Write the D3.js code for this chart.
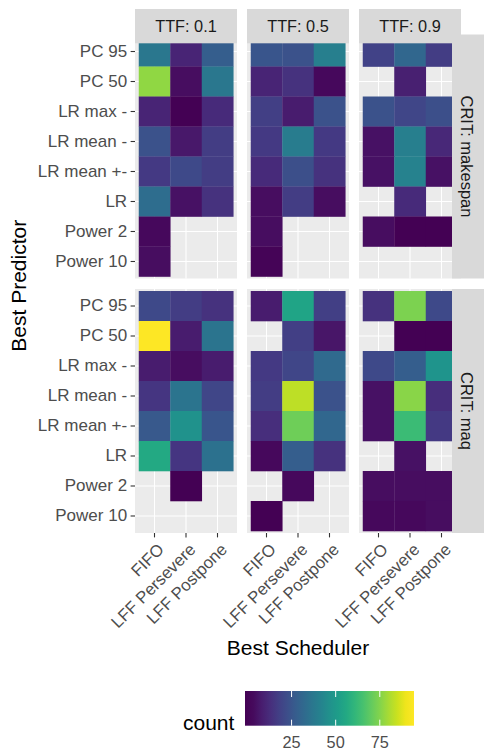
<!DOCTYPE html>
<html>
<head>
<meta charset="utf-8">
<script src="https://cdn.jsdelivr.net/npm/d3@7"></script>
<style>
  body { margin: 0; background: #fff; }
  text { font-family: "Liberation Sans", Arial, Helvetica, sans-serif; }
</style>
</head>
<body>
<script>
// categories
const predictors = ["PC 95", "PC 50", "LR max -", "LR mean -", "LR mean +-", "LR", "Power 2", "Power 10"];
const schedulers = ["FIFO", "LFF Persevere", "LFF Postpone"];
const ttfLabels = ["TTF: 0.1", "TTF: 0.5", "TTF: 0.9"];
const critLabels = ["CRIT: makespan", "CRIT: maq"];
const legendTicks = [25, 50, 75];

// counts, one row per predictor, columns FIFO / LFF Persevere / LFF Postpone (null = empty)
const makespan01 = [[37, 10, 28], [77, 4, 37], [10, 1, 12], [24, 7, 17], [16, 21, 17], [33, 5, 14], [3, null, null], [4, null, null]];
const makespan05 = [[25, 24, 40], [10, 14, 3], [18, 8, 24], [16, 39, 16], [12, 23, 14], [4, 17, 4], [4, null, null], [2, null, null]];
const makespan09 = [[19, 31, 17], [null, 9, null], [24, 20, 23], [5, 40, 11], [5, 41, 5], [null, 12, null], [4, 1, 1], [null, null, null]];
const maq01 = [[21, 17, 14], [92, 8, 36], [8, 4, 8], [15, 36, 20], [26, 47, 25], [56, 15, 35], [null, 1, null], [null, null, null]];
const maq05 = [[8, 54, 18], [null, 18, 6], [16, 20, 32], [17, 83, 24], [13, 72, 31], [3, 28, 14], [null, 3, null], [1, null, null]];
const maq09 = [[14, 74, 21], [null, 1, 1], [21, 28, 48], [5, 76, 13], [5, 63, 16], [null, 5, null], [4, 4, 4], [3, 3, 4]];

const grid = [[makespan01, makespan05, makespan09], [maq01, maq05, maq09]];

const width = 484, height = 750;
const panelX = [135, 247, 359], panelW = 102;
const panelY = [34.5, 289], panelH = 244;

const svg = d3.select("body")
    .append("svg")
    .attr("width", width)
    .attr("height", height)

const color = d3.scaleSequential(d3.interpolateViridis).domain([1, 92])

// scales inside one panel
const x = d3.scaleBand().domain(schedulers).range([0, panelW]).paddingInner(0).paddingOuter(0.119)
const y = d3.scaleBand().domain(predictors).range([0, panelH]).paddingInner(0).paddingOuter(0.067)

grid.forEach((rowPanels, r) => {
    rowPanels.forEach((counts, c) => {
        const g = svg.append("g")
            .attr("transform", "translate(" + panelX[c] + "," + panelY[r] + ")")

        g.append("rect")
            .attr("width", panelW)
            .attr("height", panelH)
            .attr("fill", "#EBEBEB")

        // major grid lines at category centres
        g.selectAll(".vgrid")
            .data(schedulers)
            .enter()
            .append("line")
            .attr("x1", d => x(d) + x.bandwidth() / 2)
            .attr("x2", d => x(d) + x.bandwidth() / 2)
            .attr("y1", 0)
            .attr("y2", panelH)
            .attr("stroke", "#fff")
            .attr("stroke-width", 1.1)
        g.selectAll(".hgrid")
            .data(predictors)
            .enter()
            .append("line")
            .attr("y1", d => y(d) + y.bandwidth() / 2)
            .attr("y2", d => y(d) + y.bandwidth() / 2)
            .attr("x1", 0)
            .attr("x2", panelW)
            .attr("stroke", "#fff")
            .attr("stroke-width", 1.1)

        const cells = []
        counts.forEach((row, i) => row.forEach((v, j) => {
            if (v !== null) cells.push({ pred: predictors[i], sched: schedulers[j], n: v })
        }))

        g.selectAll(".tile")
            .data(cells)
            .enter()
            .append("rect")
            .attr("x", d => x(d.sched))
            .attr("y", d => y(d.pred))
            .attr("width", x.bandwidth() + 0.3)
            .attr("height", y.bandwidth() + 0.3)
            .attr("fill", d => color(d.n))

        // y axis only on the first column
        if (c === 0) {
            const ya = g.append("g").call(d3.axisLeft(y).tickSize(4.4).tickPadding(3.5))
            ya.select(".domain").remove()
            ya.selectAll("line").attr("stroke", "#333333").attr("stroke-width", 1.1)
            ya.selectAll("text")
                .attr("fill", "#4D4D4D")
                .style("font-size", "17px")
        }
        // x axis only on the bottom row
        if (r === 1) {
            const xa = g.append("g")
                .attr("transform", "translate(0," + panelH + ")")
                .call(d3.axisBottom(x).tickSize(4.4).tickPadding(0))
            xa.select(".domain").remove()
            xa.selectAll("line").attr("stroke", "#333333").attr("stroke-width", 1.1)
            xa.selectAll("text")
                .attr("fill", "#4D4D4D")
                .style("font-size", "16.8px")
                .attr("text-anchor", "end")
                .attr("y", 0)
                .attr("dy", "0.72em")
                .attr("transform", "translate(2,9) rotate(-45)")
        }
    })
})

// top strips (drawn over the panels, as in the picture)
ttfLabels.forEach((lab, c) => {
    svg.append("rect")
        .attr("x", panelX[c])
        .attr("y", 9)
        .attr("width", panelW)
        .attr("height", 34.3)
        .attr("fill", "#D9D9D9")
    svg.append("text")
        .attr("x", panelX[c] + panelW / 2)
        .attr("y", 32)
        .attr("text-anchor", "middle")
        .attr("fill", "#1A1A1A")
        .style("font-size", "16.3px")
        .text(lab)
})

// right strips
critLabels.forEach((lab, r) => {
    svg.append("rect")
        .attr("x", 452)
        .attr("y", panelY[r])
        .attr("width", 40)
        .attr("height", panelH)
        .attr("fill", "#D9D9D9")
    svg.append("text")
        .attr("transform", "translate(461.3," + (panelY[r] + panelH / 2) + ") rotate(90)")
        .attr("text-anchor", "middle")
        .attr("fill", "#1A1A1A")
        .style("font-size", "16.5px")
        .text(lab)
})

// axis titles
svg.append("text")
    .attr("x", (panelX[0] + panelX[2] + panelW) / 2)
    .attr("y", 655)
    .attr("text-anchor", "middle")
    .style("font-size", "21px")
    .text("Best Scheduler")

svg.append("text")
    .attr("transform", "translate(26," + ((panelY[0] + panelY[1] + panelH) / 2 + 2) + ") rotate(-90)")
    .attr("text-anchor", "middle")
    .style("font-size", "21px")
    .text("Best Predictor")

// colour bar legend
const barX0 = 245, barX1 = 414, barY = 691, barH = 34.7
const inset = (barX1 - barX0) * 0.025
const lx = d3.scaleLinear().domain(color.domain()).range([barX0 + inset, barX1 - inset])

const grad = svg.append("defs").append("linearGradient")
    .attr("id", "countGrad")
    .attr("x1", "0%").attr("x2", "100%")
d3.range(0, 1.0001, 0.05).forEach(o => {
    const v = Math.max(1, Math.min(92, lx.invert(barX0 + o * (barX1 - barX0))))
    grad.append("stop").attr("offset", o).attr("stop-color", color(v))
})

svg.append("rect")
    .attr("x", barX0)
    .attr("y", barY)
    .attr("width", barX1 - barX0)
    .attr("height", barH)
    .attr("fill", "url(#countGrad)")

legendTicks.forEach(t => {
    svg.append("line")
        .attr("x1", lx(t)).attr("x2", lx(t))
        .attr("y1", barY).attr("y2", barY + 6)
        .attr("stroke", "#fff").attr("stroke-width", 1)
    svg.append("line")
        .attr("x1", lx(t)).attr("x2", lx(t))
        .attr("y1", barY + barH - 6).attr("y2", barY + barH)
        .attr("stroke", "#fff").attr("stroke-width", 1)
})

svg.selectAll(".legend-label")
    .data(legendTicks)
    .enter()
    .append("text")
    .attr("x", d => lx(d))
    .attr("y", 748.3)
    .attr("text-anchor", "middle")
    .attr("fill", "#4D4D4D")
    .style("font-size", "16.3px")
    .text(d => d)

svg.append("text")
    .attr("x", 183)
    .attr("y", 730)
    .style("font-size", "21px")
    .text("count")
</script>
</body>
</html>
